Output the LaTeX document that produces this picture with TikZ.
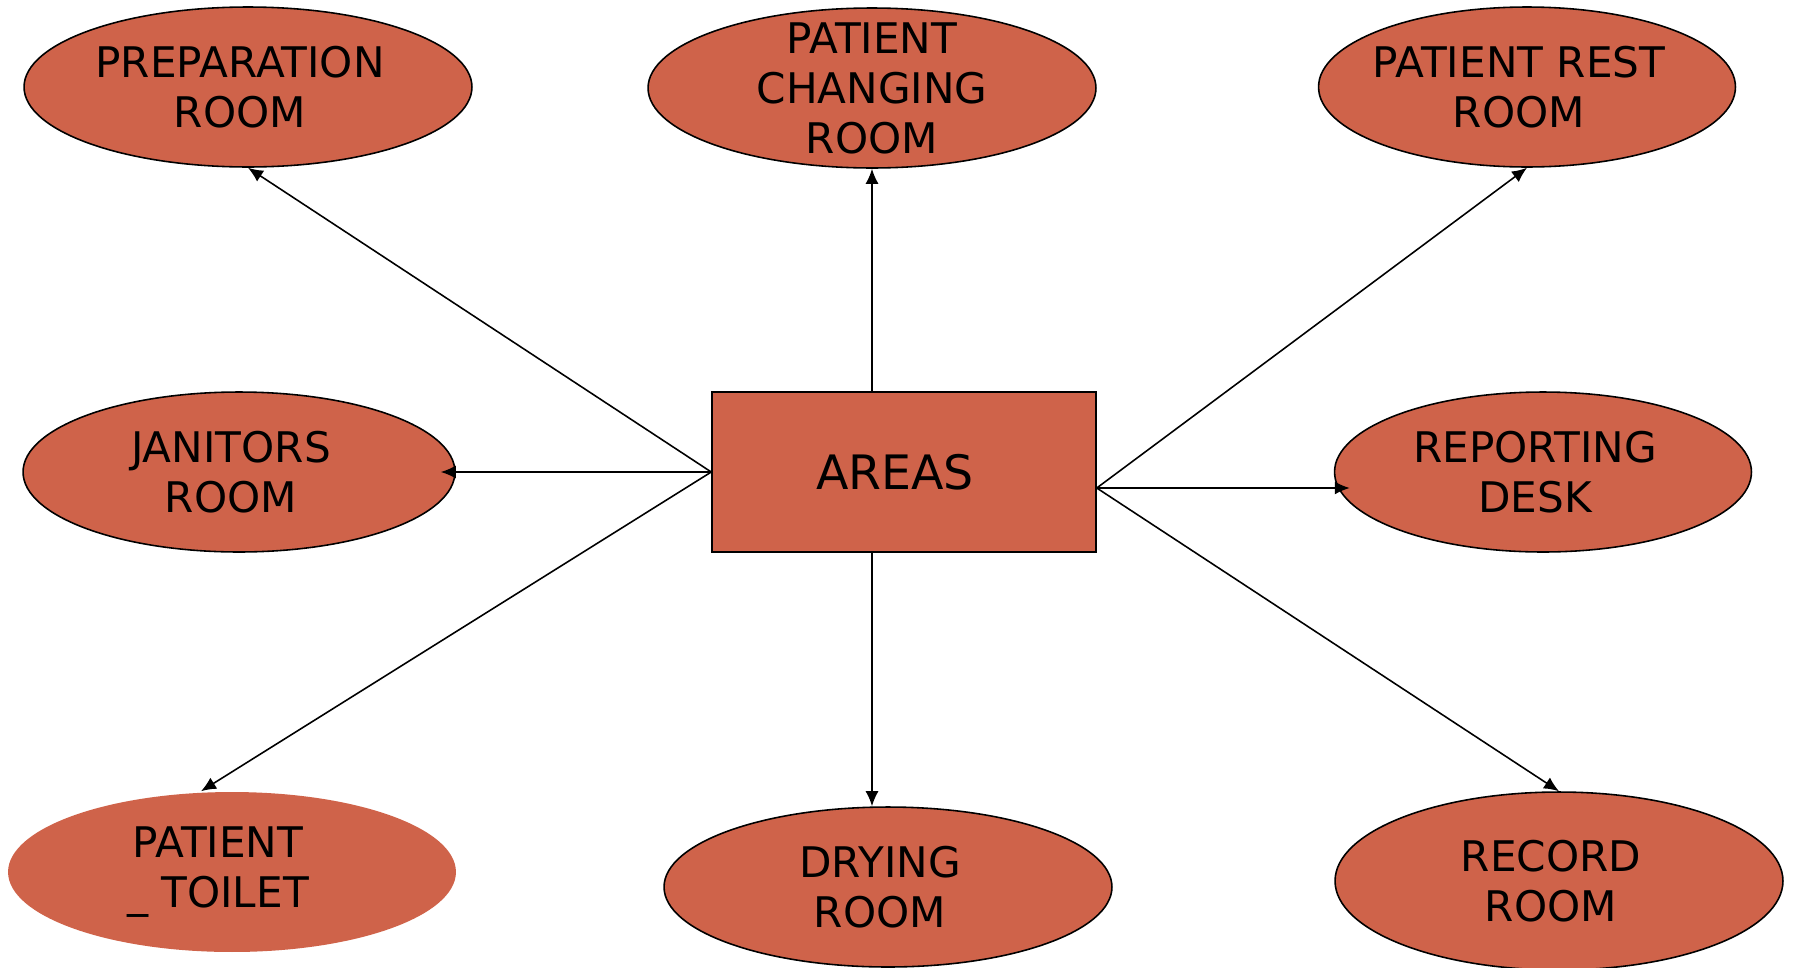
\documentclass[tikz,border=0pt]{standalone}
\usepackage{fontspec}
\setmainfont{DejaVu Sans}
\usetikzlibrary{arrows.meta,shapes.geometric}
\definecolor{brick}{RGB}{207,99,74}

\begin{document}
\begin{tikzpicture}[->,>={Latex[length=0.3cm,width=0.26cm]},x=0.02cm,y=-0.02cm,
                    line width=0.9pt]
  \tikzstyle{room}=[ellipse,draw=black,fill=brick,minimum width=8.96cm,
                    minimum height=3.2cm,inner sep=0pt]
  \tikzstyle{rtext}=[align=center,xshift=-0.16cm,
                     font=\fontsize{24}{28.5}\selectfont]
  \useasboundingbox (0,0) rectangle (1794,967);

  \node[draw=black,fill=brick,minimum width=7.68cm,minimum height=3.2cm,
        label={[font=\fontsize{27}{30}\selectfont,xshift=-0.18cm]center:AREAS}]
                                                             (A) at (904,472) {};
  \node[room,label={[rtext]center:PREPARATION\\ROOM}]        (P) at (248,87)  {};
  \node[room,label={[rtext,xshift=0.16cm]center:PATIENT\\CHANGING\\ROOM}]
                                                             (C) at (872,88)  {};
  \node[room,minimum width=8.34cm,label={[rtext]center:PATIENT REST\\ROOM}]
                                                             (R) at (1527,87) {};
  \node[room,minimum width=8.64cm,label={[rtext]center:JANITORS\\ROOM}]
                                                             (J) at (239,472) {};
  \node[room,minimum width=8.34cm,label={[rtext]center:REPORTING\\DESK}]
                                                             (D) at (1543,472) {};
  \node[room,draw=none,label={[rtext,xshift=-0.12cm]center:PATIENT\\\_ TOILET}]
                                                             (T) at (232,872) {};
  \node[room,label={[rtext]center:DRYING\\ROOM}]             (Y) at (888,887) {};
  \node[room,minimum height=3.56cm,label={[rtext]center:RECORD\\ROOM}]
                                                             (E) at (1559,881) {};

  \path (A.west) edge (P.south)
                 edge[shorten >=-0.3cm] (J.east)
                 edge ([xshift=-0.62cm]T.north)
        (A.north -| C) edge (C.south)
        (A.south -| C) edge (Y.north -| C)
        ([yshift=-0.32cm]A.east) edge (R.south)
                                 edge[shorten >=-0.32cm] ([yshift=-0.32cm]D.west)
                                 edge (E.north);
\end{tikzpicture}
\end{document}
